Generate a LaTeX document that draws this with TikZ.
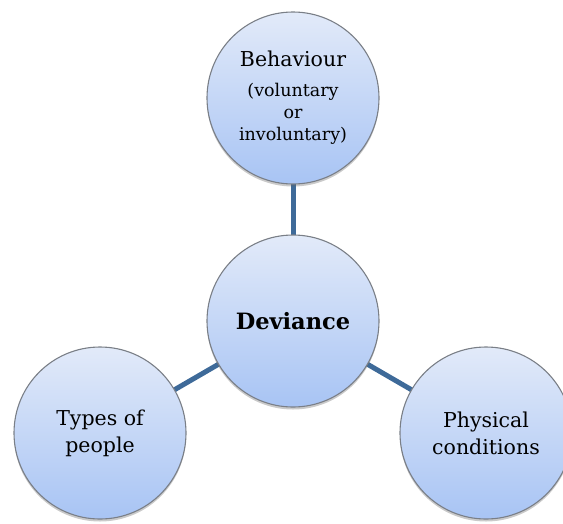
\documentclass[tikz,border=0pt]{standalone}
\usepackage{fontspec}
\setmainfont{DejaVu Serif}
\usetikzlibrary{shadows,backgrounds}
\definecolor{rimgrey}{HTML}{7A7F87}
\definecolor{fillhi}{HTML}{E2EAF9}
\definecolor{filllo}{HTML}{A8C4F4}
\definecolor{linkblue}{HTML}{3E6A99}
\newcommand{\smalltxt}[1]{{\fontsize{17.5}{21.5}\selectfont #1}}
\tikzset{
  bubble/.style={circle, minimum size=172pt, inner sep=0pt, draw=rimgrey,
    line width=1.1pt, top color=fillhi, bottom color=filllo, align=center,
    font=\fontsize{20.5}{27}\selectfont,
    drop shadow={shadow xshift=0pt, shadow yshift=-2.5pt, opacity=0.35, fill=black!60}},
  link/.style={draw=linkblue, line width=5pt}
}
\begin{document}
\begin{tikzpicture}[x=1pt, y=-1pt]
  \useasboundingbox (0,0) rectangle (563,523);
  \node[bubble] (dev) at (293,321) {\fontsize{22.5}{26}\selectfont\bfseries Deviance};
  \node[bubble] (beh) at (293,98) {Behaviour\\[3pt]
    \smalltxt{(voluntary}\\[-5pt]
    \smalltxt{or}\\[-5pt]
    \smalltxt{involuntary)}};
  \node[bubble] (typ) at (100,433) {Types of\\people};
  \node[bubble] (phy) at (486,433) {Physical\\conditions};
  \begin{scope}[on background layer]
    \draw[link] (dev.center) -- (beh.center);
    \draw[link] (dev.center) -- (typ.center);
    \draw[link] (dev.center) -- (phy.center);
  \end{scope}
\end{tikzpicture}
\end{document}
